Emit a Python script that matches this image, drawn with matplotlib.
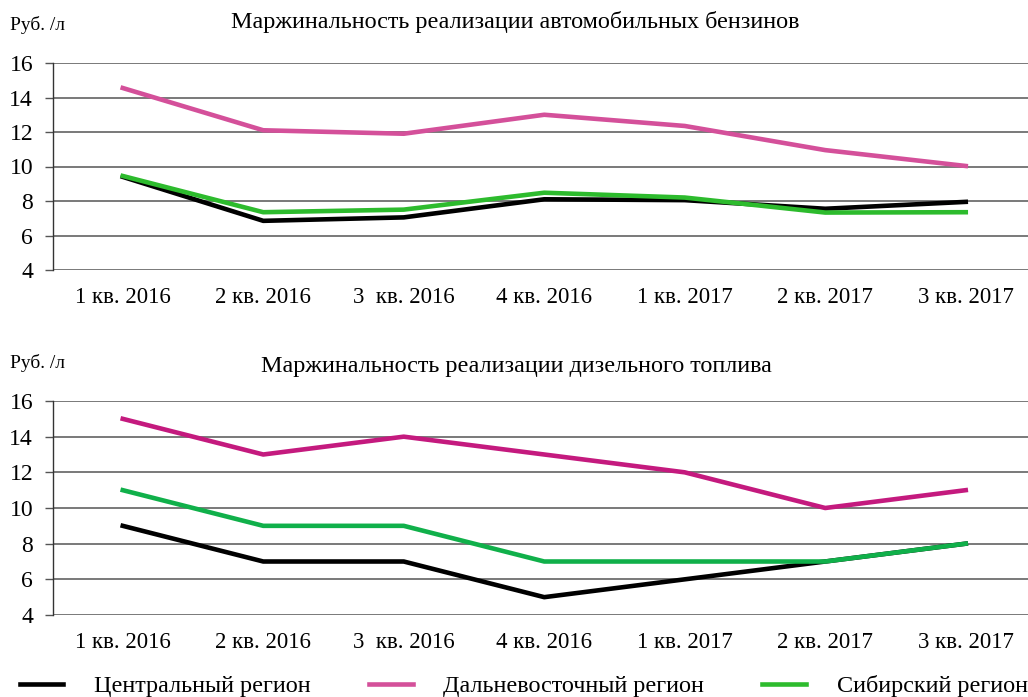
import numpy as np
import matplotlib
matplotlib.use("Agg")
import matplotlib.pyplot as plt

plt.rcParams['font.family'] = ['Liberation Serif', 'DejaVu Serif']

quarters = ['1 кв. 2016', '2 кв. 2016', '3  кв. 2016', '4 кв. 2016',
            '1 кв. 2017', '2 кв. 2017', '3 кв. 2017']

# бензин
petrol_central = [9.4, 6.85, 7.05, 8.1, 8.05, 7.55, 7.95]
petrol_fareast = [14.55, 12.1, 11.9, 13.0, 12.35, 10.95, 10.03]
petrol_siberia = [9.45, 7.35, 7.5, 8.48, 8.2, 7.33, 7.35]

# дизель
diesel_central = [9, 7, 7, 5, 6, 7, 8]
diesel_fareast = [15, 13, 14, 13, 12, 10, 11]
diesel_siberia = [11, 9, 9, 7, 7, 7, 8]

names = ['Центральный регион', 'Дальневосточный регион', 'Сибирский регион']
unit = 'Руб. /л'
title_top = 'Маржинальность реализации автомобильных бензинов'
title_bot = 'Маржинальность реализации дизельного топлива'

W, H = 1028, 697
fig = plt.figure(figsize=(W / 100, H / 100), dpi=100)


def make_axes(top_px, bottom_px):
    left = 52.5 / W
    width = 983.5 / W
    return fig.add_axes([left, 1 - bottom_px / H, width, (bottom_px - top_px) / H])


def style(ax):
    x = np.arange(len(quarters))
    ax.set_xlim(-0.5, len(quarters) - 0.5)
    ax.set_ylim(4, 16)
    ax.set_yticks(range(4, 17, 2))
    ax.set_xticks(x)
    ax.set_xticklabels(quarters, fontsize=16.5)
    ax.tick_params(axis='x', length=0, pad=12)
    ax.tick_params(axis='y', length=6, width=1.0, color='#555555', pad=8,
                   labelsize=17)
    for s in ['top', 'right', 'bottom']:
        ax.spines[s].set_visible(False)
    ax.spines['left'].set_color('#333333')
    ax.spines['left'].set_linewidth(1.0)
    ax.grid(axis='y', color='#555555', linewidth=1.1)
    ax.set_axisbelow(True)


x = np.arange(len(quarters))

ax1 = make_axes(63, 270)
style(ax1)
ax1.plot(x, petrol_central, color='black', lw=3.3, solid_joinstyle='round')
ax1.plot(x, petrol_fareast, color='#d4509a', lw=3.3, solid_joinstyle='round')
ax1.plot(x, petrol_siberia, color='#2dbb2d', lw=3.3, solid_joinstyle='round')

ax2 = make_axes(401, 615)
style(ax2)
ax2.plot(x, diesel_central, color='black', lw=3.3, solid_joinstyle='round')
ax2.plot(x, diesel_fareast, color='#c41a7e', lw=3.3, solid_joinstyle='round')
ax2.plot(x, diesel_siberia, color='#10b04a', lw=3.3, solid_joinstyle='round')

fig.text(10 / W, 1 - 25 / H, unit, fontsize=14, va='center', ha='left')
fig.text(515 / W, 1 - 22 / H, title_top, fontsize=17.4, va='center', ha='center')
fig.text(10 / W, 1 - 363 / H, unit, fontsize=14, va='center', ha='left')
fig.text(516 / W, 1 - 367 / H, title_bot, fontsize=17.4, va='center', ha='center')

# легенда (цвета как в верхнем графике)
h1 = plt.Line2D([], [], color='black', lw=3.3)
h2 = plt.Line2D([], [], color='#d4509a', lw=3.3)
h3 = plt.Line2D([], [], color='#2dbb2d', lw=3.3)
fig.legend([h1, h2, h3], names, loc='center left',
           bbox_to_anchor=(20 / W, 1 - 686 / H), ncol=3, frameon=False,
           fontsize=17.4, handlelength=1.8, handletextpad=1.28,
           columnspacing=2.4, borderpad=0, borderaxespad=0)

fig.savefig('out.png', dpi=100)
